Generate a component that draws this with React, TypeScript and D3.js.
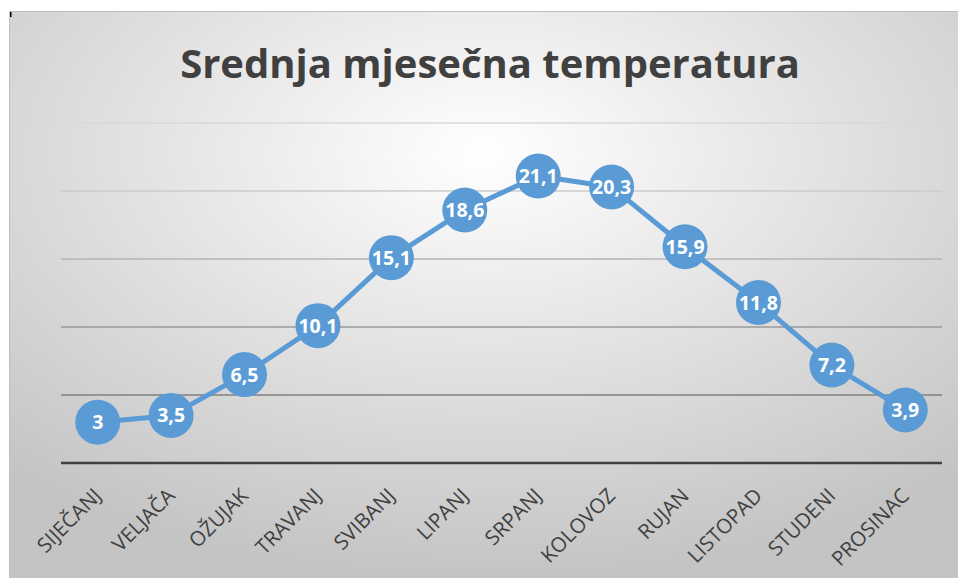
import * as d3 from 'd3'

const months = ['SIJEČANJ', 'VELJAČA', 'OŽUJAK', 'TRAVANJ', 'SVIBANJ', 'LIPANJ', 'SRPANJ', 'KOLOVOZ', 'RUJAN', 'LISTOPAD', 'STUDENI', 'PROSINAC']
const temps = [3, 3.5, 6.5, 10.1, 15.1, 18.6, 21.1, 20.3, 15.9, 11.8, 7.2, 3.9]
const gridValues = [5, 10, 15, 20, 25]
const gridColors = ['#808080', '#9a9a9a', '#b4b4b4', '#cbcbcb', '#d9d9d9']

const W = 958
const H = 578
const BLUE = '#5b9bd5'

export default function App() {
  const x = d3.scaleBand<string>().domain(months).range([61, 942])
  const y = d3.scaleLinear().domain([0, 25]).range([463, 123])

  const line = d3.line<number>()
    .x((_, i) => x(months[i])! + x.bandwidth() / 2)
    .y(d => y(d))

  const fmt = (v: number) => String(v).replace('.', ',')

  return (
    <svg width={W} height={H} style={{ position: 'absolute', left: 0, top: 0 }}>
      <defs>
        <radialGradient id="bg" cx="50%" cy="25%" r="75%">
          <stop offset="0" stopColor="#ffffff" />
          <stop offset="1" stopColor="#c4c4c4" />
        </radialGradient>
      </defs>
      <rect x={0} y={0} width={W} height={H} fill="#fff" />
      <rect x={9.5} y={11.5} width={W - 9} height={H - 11} fill="url(#bg)" stroke="#bfbfbf" strokeWidth={1} />
      <rect x={10} y={12} width={1.5} height={5} fill="#000" />

      <text x={490} y={78} textAnchor="middle" fontFamily="'Open Sans', sans-serif" fontWeight="bold" fontSize={40} fill="#404040">
        Srednja mjesečna temperatura
      </text>

      {gridValues.map((g, i) => (
        <line key={g} x1={61} x2={942} y1={y(g)} y2={y(g)} stroke={gridColors[i]} strokeWidth={1.5} />
      ))}
      <line x1={61} x2={942} y1={y(0)} y2={y(0)} stroke="#404040" strokeWidth={2.5} />

      <path d={line(temps) ?? ''} fill="none" stroke={BLUE} strokeWidth={5} strokeLinejoin="round" />

      {temps.map((t, i) => {
        const cx = x(months[i])! + x.bandwidth() / 2
        const cy = y(t)
        return (
          <g key={i}>
            <circle cx={cx} cy={cy} r={22.5} fill={BLUE} />
            <text x={cx} y={cy + 7} textAnchor="middle" fontFamily="'Open Sans', sans-serif" fontWeight="bold" fontSize={19.5} fill="#fff">
              {fmt(t)}
            </text>
          </g>
        )
      })}

      {months.map(m => {
        const cx = x(m)! + x.bandwidth() / 2
        return (
          <text key={m} transform={`translate(${cx + 5},${497}) rotate(-45)`} textAnchor="end" fontFamily="'Open Sans', sans-serif" fontSize={20.5} fill="#404040">
            {m}
          </text>
        )
      })}
    </svg>
  )
}
